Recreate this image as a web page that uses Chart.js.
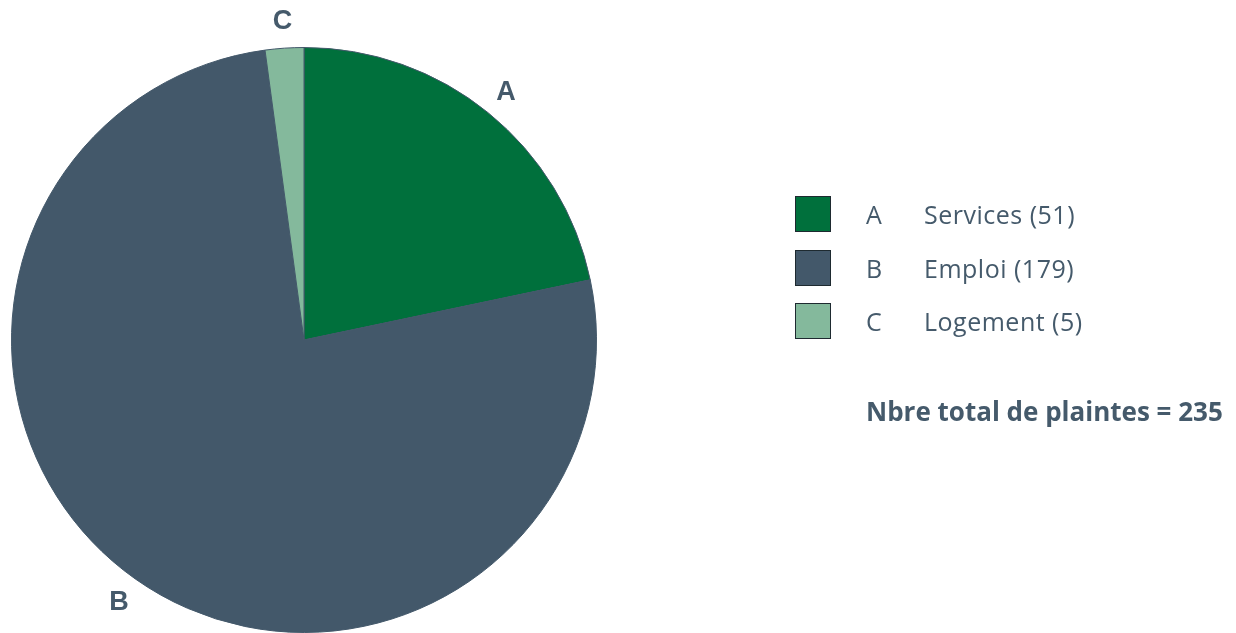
<!DOCTYPE html>
<html lang="fr">
<head>
<meta charset="utf-8">
<title>Plaintes par domaine</title>
<script src="https://cdn.jsdelivr.net/npm/chart.js@4/dist/chart.umd.min.js"></script>
<style>
  html, body { margin: 0; padding: 0; background: #ffffff; }
  #wrap { position: relative; width: 1236px; height: 633px; overflow: hidden; }
  #pie { position: absolute; left: 0; top: 0; }
  #legend { position: absolute; left: 795px; top: 196px; font-family: "Open Sans", sans-serif; color: #455a6b; }
  .row { position: absolute; left: 0; height: 36px; white-space: nowrap; }
  .sw { position: absolute; left: 0; top: 0; width: 34px; height: 34px; border: 1px solid #1e2a30; }
  .code { position: absolute; left: 71px; top: 0; line-height: 36px; font-size: 25px; }
  .name { position: absolute; left: 129px; top: 0; line-height: 36px; font-size: 25px; letter-spacing: 0.5px; }
  #total { position: absolute; left: 866px; top: 393px; font-family: "Open Sans", sans-serif; font-weight: 700; font-size: 26px; color: #455a6b; white-space: nowrap; }
</style>
</head>
<body>
<div id="wrap">
  <canvas id="pie" width="1236" height="633"></canvas>
  <div id="legend"></div>
  <div id="total"></div>
</div>
<script>
// Complaints by domain
const codes = ['A', 'B', 'C'];
const domains = ['Services', 'Emploi', 'Logement'];
const counts = [51, 179, 5];
const colors = ['#00703c', '#43586a', '#84b99c'];
const totalLabel = 'Nbre total de plaintes';

// Legend rows built from the arrays
const legend = document.getElementById('legend');
codes.forEach((c, i) => {
  const row = document.createElement('div');
  row.className = 'row';
  row.style.top = (i * 53.5) + 'px';
  row.innerHTML = '<div class="sw" style="background:' + colors[i] + '"></div>' +
    '<div class="code">' + c + '</div>' +
    '<div class="name">' + domains[i] + ' (' + counts[i] + ')</div>';
  legend.appendChild(row);
});
const total = counts.reduce((a, b) => a + b, 0);
document.getElementById('total').textContent = totalLabel + ' = ' + total;

// Letters placed just outside each slice, at its mid angle
const sliceLabels = {
  id: 'sliceLabels',
  afterDatasetsDraw(chart) {
    const ctx = chart.ctx;
    const meta = chart.getDatasetMeta(0);
    ctx.save();
    ctx.font = 'bold 27px "Liberation Sans", Arial, sans-serif';
    ctx.fillStyle = '#455a6b';
    ctx.textAlign = 'center';
    ctx.textBaseline = 'middle';
    meta.data.forEach((arc, i) => {
      const p = arc.getProps(['x', 'y', 'startAngle', 'endAngle', 'outerRadius'], true);
      const mid = (p.startAngle + p.endAngle) / 2;
      const r = p.outerRadius + 28;
      ctx.fillText(codes[i], p.x + Math.cos(mid) * r, p.y + Math.sin(mid) * r + 1);
    });
    ctx.restore();
  }
};

new Chart(document.getElementById('pie'), {
  type: 'pie',
  data: {
    labels: domains,
    datasets: [{
      data: counts,
      backgroundColor: colors,
      borderColor: '#43586a',
      borderWidth: 1
    }]
  },
  options: {
    responsive: false,
    devicePixelRatio: 1,
    animation: false,
    layout: { padding: { left: 11, top: 47, right: 639, bottom: 0 } },
    plugins: {
      legend: { display: false },
      tooltip: { enabled: false }
    }
  },
  plugins: [sliceLabels]
});
</script>
</body>
</html>
